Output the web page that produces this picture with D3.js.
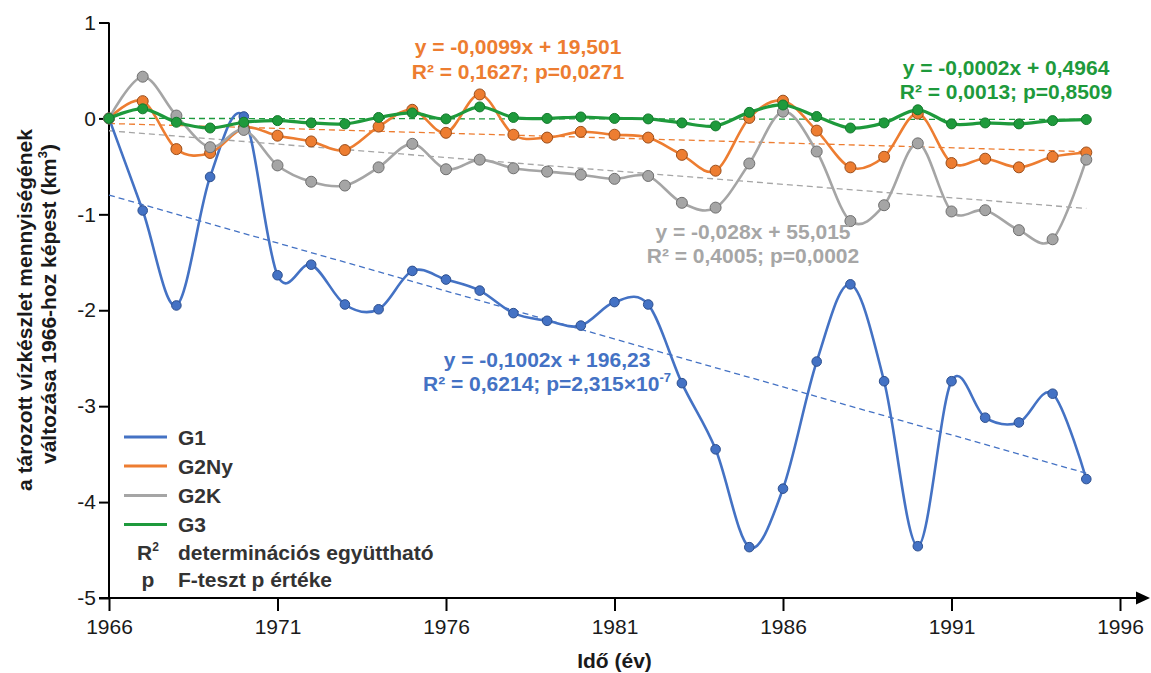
<!DOCTYPE html>
<html>
<head>
<meta charset="utf-8">
<script src="https://cdn.jsdelivr.net/npm/d3@7"></script>
<style>
  html, body { margin: 0; padding: 0; background: #fff; }
  svg { display: block; font-family: "Liberation Sans", Arial, sans-serif; }
</style>
</head>
<body>
<svg id="chart" width="1151" height="673"></svg>
<script>
// Years of observation
const years = [1966, 1967, 1968, 1969, 1970, 1971, 1972, 1973, 1974, 1975,
               1976, 1977, 1978, 1979, 1980, 1981, 1982, 1983, 1984, 1985,
               1986, 1987, 1988, 1989, 1990, 1991, 1992, 1993, 1994, 1995];

// Change of stored water volume relative to 1966 (km³)
const g1 = [0, -0.96, -1.95, -0.61, 0.02, -1.635, -1.525, -1.94, -1.99, -1.59,
            -1.68, -1.795, -2.03, -2.11, -2.16, -1.915, -1.94, -2.76, -3.45, -4.47,
            -3.86, -2.535, -1.73, -2.74, -4.46, -2.74, -3.12, -3.17, -2.87, -3.76];
const g2ny = [0, 0.18, -0.32, -0.36, -0.10, -0.18, -0.24, -0.33, -0.085, 0.09,
              -0.15, 0.25, -0.17, -0.20, -0.14, -0.17, -0.20, -0.38, -0.545, 0.005,
              0.185, -0.127, -0.51, -0.40, 0.05, -0.465, -0.42, -0.51, -0.40, -0.355];
const g2k = [0, 0.435, 0.03, -0.30, -0.12, -0.49, -0.66, -0.70, -0.51, -0.265,
             -0.53, -0.43, -0.52, -0.555, -0.587, -0.63, -0.60, -0.88, -0.93, -0.47,
             0.07, -0.345, -1.07, -0.905, -0.26, -0.97, -0.957, -1.165, -1.26, -0.43];
const g3 = [0, 0.10, -0.04, -0.10, -0.04, -0.023, -0.047, -0.057, 0.01, 0.057,
            -0.005, 0.12, 0.01, 0, 0.015, 0, -0.005, -0.047, -0.078, 0.063,
            0.14, 0.02, -0.10, -0.047, 0.09, -0.057, -0.047, -0.057, -0.023, -0.012];

const seriesNames = ["G1", "G2Ny", "G2K", "G3"];
const seriesColors = ["#4472C4", "#ED7D31", "#A5A5A5", "#1E9A3C"];
const markerStrokes = ["#2D4F8E", "#9A4E1B", "#6F6F6F", "#157A2D"];

// Regression annotations
const eqLines = [
  "y = -0,1002x + 196,23",
  "y = -0,0099x + 19,501",
  "y = -0,028x + 55,015",
  "y = -0,0002x + 0,4964"
];
const statLines = [
  "R² = 0,6214; p=2,315×10",
  "R² = 0,1627; p=0,0271",
  "R² = 0,4005; p=0,0002",
  "R² = 0,0013; p=0,8509"
];

const xTicks = [1966, 1971, 1976, 1981, 1986, 1991, 1996];
const yTicks = [1, 0, -1, -2, -3, -4, -5];

const xTitle = "Idő (év)";
const yTitle1 = "a tározott vízkészlet mennyiségének";
const yTitle2 = "változása 1966-hoz képest (km";

const legendExtra = [["R", "2", "determinációs együttható"], ["p", "", "F-teszt p értéke"]];

// ---------------------------------------------------------------
const svg = d3.select("#chart");
const FONT = 21;

const x = d3.scaleLinear().domain([1966, 1996]).range([109, 1120]);
const y = d3.scaleLinear().domain([-5, 1]).range([598, 22.5]);

const data = [g1, g2ny, g2k, g3].map(vals => years.map((yr, i) => ({ year: yr, v: vals[i] })));

// least-squares trend of each series
function fit(pts) {
  const mx = d3.mean(pts, d => d.year), my = d3.mean(pts, d => d.v);
  const sxy = d3.sum(pts, d => (d.year - mx) * (d.v - my));
  const sxx = d3.sum(pts, d => (d.year - mx) ** 2);
  const b = sxy / sxx;
  return { b, a: my - b * mx };
}

// axes
const axisG = svg.append("g");
const yAxis = d3.axisLeft(y).tickValues(yTicks).tickSize(10).tickPadding(3)
  .tickFormat(d3.format("d"));
const yg = axisG.append("g").attr("transform", `translate(${x(1966)},0)`).call(yAxis);
yg.select(".domain").remove();
yg.append("line").attr("x1", 0).attr("x2", 0).attr("y1", y(1)).attr("y2", y(-5))
  .attr("stroke", "#000").attr("stroke-width", 2);
yg.selectAll(".tick line").attr("stroke", "#000").attr("stroke-width", 2);
yg.selectAll(".tick text").attr("font-size", FONT).attr("fill", "#1a1a1a")
  .attr("font-family", "Liberation Sans, Arial, sans-serif")
  .text(d => d < 0 ? "-" + Math.abs(d) : d);

const xAxis = d3.axisBottom(x).tickValues(xTicks).tickSize(13).tickPadding(8)
  .tickFormat(d3.format("d"));
const xg = axisG.append("g").attr("transform", `translate(0,${y(-5)})`).call(xAxis);
xg.select(".domain").remove();
xg.append("line").attr("x1", x(1966) - 10).attr("x2", 1140).attr("y1", 0).attr("y2", 0)
  .attr("stroke", "#000").attr("stroke-width", 2);
xg.append("path").attr("d", "M1136,-6.5 L1150,0 L1136,6.5 Z").attr("fill", "#000");
xg.selectAll(".tick line").attr("stroke", "#000").attr("stroke-width", 2);
xg.selectAll(".tick text").attr("font-size", FONT).attr("fill", "#1a1a1a")
  .attr("font-family", "Liberation Sans, Arial, sans-serif");

// axis titles
svg.append("text").attr("x", (x(1966) + x(1996)) / 2).attr("y", 668)
  .attr("text-anchor", "middle").attr("font-size", FONT).attr("font-weight", "bold")
  .attr("fill", "#1a1a1a").text(xTitle);

svg.append("text").attr("transform", "translate(32,310) rotate(-90)")
  .attr("text-anchor", "middle").attr("font-size", FONT).attr("font-weight", "bold")
  .attr("fill", "#1a1a1a").text(yTitle1);
const yt2 = svg.append("text").attr("transform", "translate(56,304) rotate(-90)")
  .attr("text-anchor", "middle").attr("font-size", FONT).attr("font-weight", "bold")
  .attr("fill", "#1a1a1a");
yt2.append("tspan").text(yTitle2);
yt2.append("tspan").attr("dy", -9).attr("font-size", 13).text("3");
yt2.append("tspan").attr("dy", 9).text(")");

// trend lines
data.forEach((pts, i) => {
  const { a, b } = fit(pts);
  const x0 = years[0], x1 = years[years.length - 1];
  svg.append("line")
    .attr("x1", x(x0)).attr("y1", y(a + b * x0))
    .attr("x2", x(x1)).attr("y2", y(a + b * x1))
    .attr("stroke", seriesColors[i]).attr("stroke-width", 1.3)
    .attr("stroke-dasharray", "6,4");
});

// smoothed series with markers
const line = d3.line().x(d => x(d.year)).y(d => y(d.v)).curve(d3.curveCatmullRom.alpha(0));
const lineWidths = [2.6, 2.6, 2.6, 3.2];
const radii = [4.8, 5.5, 5.5, 5];
data.forEach((pts, i) => {
  const g = svg.append("g");
  g.append("path").attr("d", line(pts)).attr("fill", "none")
    .attr("stroke", seriesColors[i]).attr("stroke-width", lineWidths[i]);
  g.selectAll("circle").data(pts).join("circle")
    .attr("cx", d => x(d.year)).attr("cy", d => y(d.v)).attr("r", radii[i])
    .attr("fill", seriesColors[i]).attr("stroke", markerStrokes[i]).attr("stroke-width", 1);
});

// regression labels
const labelPos = [
  { cx: 547, y1: 367, y2: 391 },
  { cx: 518, y1: 54, y2: 79 },
  { cx: 753, y1: 239, y2: 263 },
  { cx: 1006, y1: 75, y2: 99 }
];
labelPos.forEach((p, i) => {
  const c = i === 2 ? "#A6A6A6" : seriesColors[i];
  svg.append("text").attr("x", p.cx).attr("y", p.y1).attr("text-anchor", "middle")
    .attr("font-size", FONT).attr("font-weight", "bold").attr("fill", c).text(eqLines[i]);
  const t = svg.append("text").attr("x", p.cx).attr("y", p.y2).attr("text-anchor", "middle")
    .attr("font-size", FONT).attr("font-weight", "bold").attr("fill", c);
  t.append("tspan").text(statLines[i]);
  if (i === 0) t.append("tspan").attr("dy", -9).attr("font-size", 13).text("-7");
});

// legend
const legend = svg.append("g");
const legendY = [437, 466, 495.5, 524.5];
seriesNames.forEach((name, i) => {
  legend.append("line").attr("x1", 124).attr("x2", 167)
    .attr("y1", legendY[i]).attr("y2", legendY[i])
    .attr("stroke", seriesColors[i]).attr("stroke-width", 3);
  legend.append("text").attr("x", 178).attr("y", legendY[i] + 7.5)
    .attr("font-size", FONT).attr("font-weight", "bold").attr("fill", "#333").text(name);
});
legendExtra.forEach((row, j) => {
  const yy = 552 + j * 27 + 7.5;
  const sym = legend.append("text").attr("x", 148).attr("y", yy).attr("text-anchor", "middle")
    .attr("font-size", FONT).attr("font-weight", "bold").attr("fill", "#333");
  sym.append("tspan").text(row[0]);
  if (row[1]) sym.append("tspan").attr("dy", -9).attr("font-size", 12).text(row[1]);
  legend.append("text").attr("x", 178).attr("y", yy)
    .attr("font-size", FONT).attr("font-weight", "bold").attr("fill", "#333").text(row[2]);
});
</script>
</body>
</html>
